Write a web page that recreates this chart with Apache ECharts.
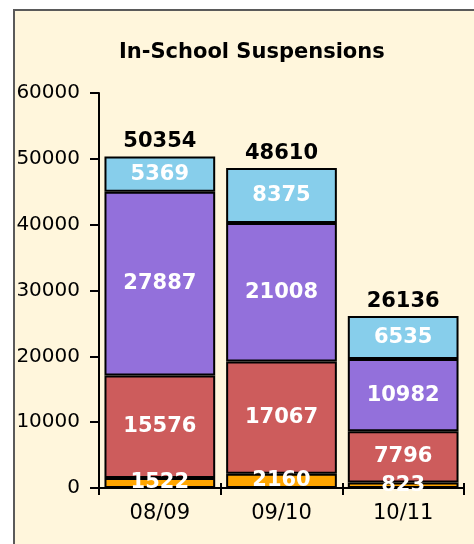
<!DOCTYPE html>
<html>
<head>
<meta charset="utf-8">
<title>In-School Suspensions</title>
<style>
    body{ margin:0; background-color:#FFFFFF; }
    #main{ width:474px; height:544px; }
</style>
</head>
<body>
<div id="main"></div>
<script src="https://cdn.jsdelivr.net/npm/echarts@6/dist/echarts.min.js"></script>
<script>
    var years = ["08/09", "09/10", "10/11"];
    var orangeVals = [1522, 2160, 823];
    var redVals = [15576, 17067, 7796];
    var purpleVals = [27887, 21008, 10982];
    var blueVals = [5369, 8375, 6535];
    var totals = [50354, 48610, 26136];
    var yTicks = [0, 10000, 20000, 30000, 40000, 50000, 60000];

    var font = "DejaVu Sans, Verdana, sans-serif";

    function part(name, data, color){
        return {
            name: name,
            type: 'bar',
            stack: 'all',
            data: data,
            barCategoryGap: '9%',
            itemStyle: { color: color, borderColor: '#000', borderWidth: 2 },
            label: {
                show: true, position: 'inside', color: '#fff',
                fontFamily: font, fontWeight: 'bold', fontSize: 21
            }
        };
    }

    var myChart = echarts.init(document.getElementById('main'));
    var option = {
        animation: false,
        backgroundColor: '#FFFFFF',
        graphic: [{
            type: 'rect', z: -10, silent: true,
            shape: { x: 14, y: 10, width: 480, height: 560 },
            style: { fill: '#FFF6DC', stroke: '#5A5A5A', lineWidth: 2 }
        }],
        title: {
            text: 'In-School Suspensions',
            left: 114, top: 37,
            textStyle: { fontFamily: font, fontWeight: 'bold', fontSize: 21, color: '#000' }
        },
        grid: { left: 99, right: 10, top: 93, bottom: 56, containLabel: false },
        xAxis: [{
            type: 'category',
            data: years,
            axisLine: { lineStyle: { color: '#000', width: 2 } },
            axisTick: { show: true, length: 7, lineStyle: { color: '#000', width: 2 } },
            axisLabel: { color: '#000', fontFamily: font, fontSize: 21, margin: 15 }
        }, {
            // inner half of the ticks, which cross the axis line
            type: 'category',
            data: years,
            position: 'bottom',
            axisLine: { show: false },
            axisTick: { show: true, inside: true, length: 5, lineStyle: { color: '#000', width: 2 } },
            axisLabel: { show: false }
        }],
        yAxis: {
            type: 'value',
            min: yTicks[0], max: yTicks[yTicks.length - 1], interval: 10000,
            splitLine: { show: false },
            axisLine: { show: true, lineStyle: { color: '#000', width: 2 } },
            axisTick: { show: true, length: 9, lineStyle: { color: '#000', width: 2 } },
            axisLabel: {
                color: '#000', fontFamily: font, fontSize: 20, margin: 19,
                formatter: function(v){ return String(v); }
            }
        },
        series: [
            part('orange', orangeVals, '#FFA500'),
            part('red', redVals, '#CD5C5C'),
            part('purple', purpleVals, '#9370DB'),
            part('blue', blueVals, '#87CEEB'),
            {
                name: 'total', type: 'bar', stack: 'all',
                data: [0, 0, 0],
                itemStyle: { color: 'rgba(0,0,0,0)', borderWidth: 0 },
                label: {
                    show: true, position: 'top', distance: 4, color: '#000',
                    fontFamily: font, fontWeight: 'bold', fontSize: 21,
                    formatter: function(p){ return totals[p.dataIndex]; }
                }
            }
        ]
    };
    myChart.setOption(option);
</script>
</body>
</html>
